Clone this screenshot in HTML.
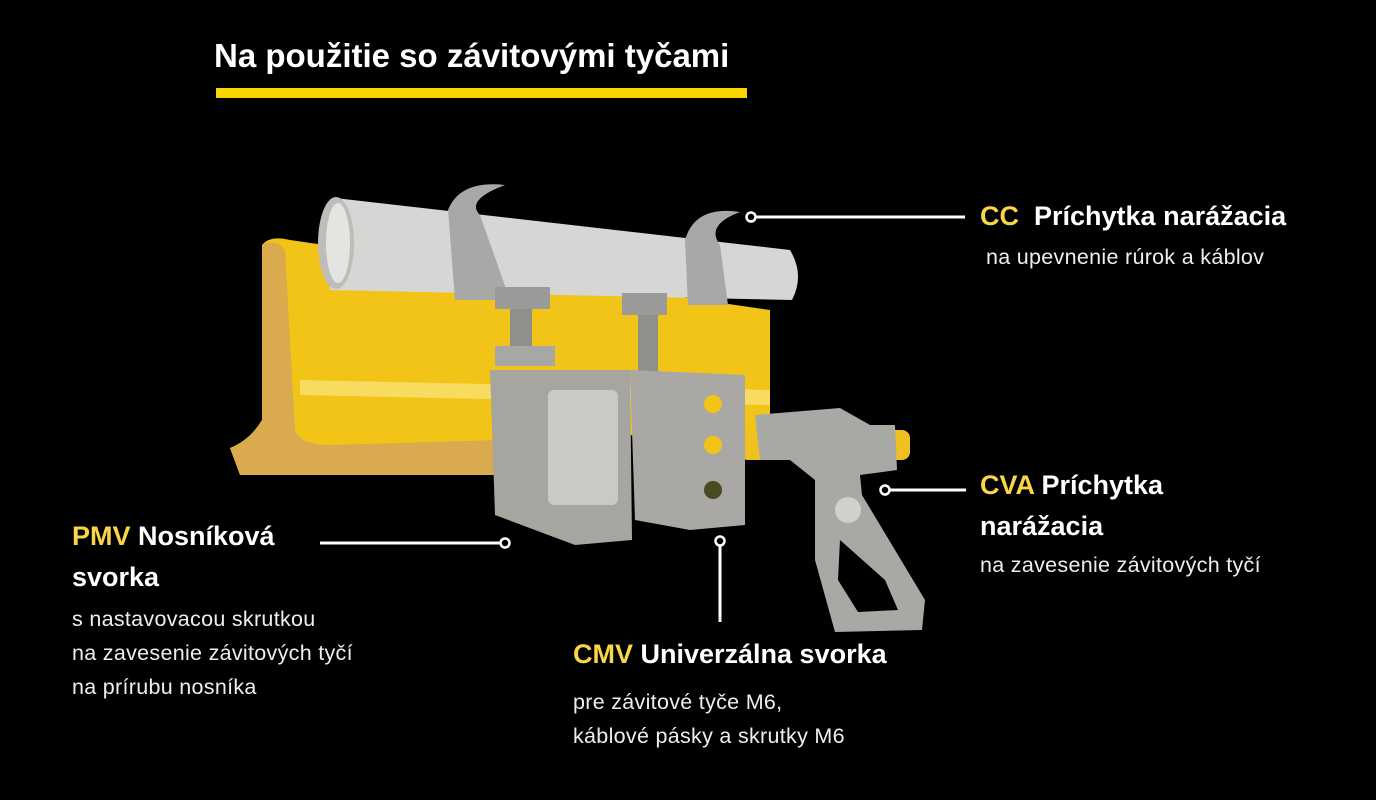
<!DOCTYPE html>
<html><head><meta charset="utf-8"><style>
body{margin:0;background:#000;width:1376px;height:800px;overflow:hidden;position:relative;font-family:"Liberation Sans",sans-serif;color:#fff}
.t{position:absolute;white-space:nowrap}
.h{font-weight:bold;font-size:27px}
.y{color:#f9d548}
.s{font-size:21.5px;color:#eee;letter-spacing:0.3px}
</style></head><body>
<svg width="1376" height="800" style="position:absolute;left:0;top:0">
<path d="M230 448 Q250 440 262 420 L262 245 Q270 235 290 240 L770 310 L770 430 L500 440 L500 475 L240 475 Z" fill="#f2c418"/>
<path d="M230 448 Q250 440 262 420 L262 245 Q275 238 285 250 L295 430 Q300 445 330 445 L500 440 L500 475 L240 475 Z" fill="#d9aa4e"/>
<path d="M300 380 L770 390 L770 405 L300 395Z" fill="#f8dc60"/>
<rect x="740" y="430" width="170" height="30" rx="8" fill="#f0c020"/>
<path d="M335 198 L790 250 Q805 275 792 300 L330 290 Z" fill="#d6d6d4"/>
<ellipse cx="336" cy="243" rx="18" ry="46" fill="#bdbdba"/>
<ellipse cx="338" cy="243" rx="12" ry="40" fill="#e4e4e2"/>
<path d="M448 210 Q460 180 505 185 Q465 200 480 215 L510 300 L455 300 Z" fill="#a8a8a6"/>
<path d="M685 240 Q695 205 740 212 Q705 225 720 245 L728 305 L688 305Z" fill="#a8a8a6"/>
<rect x="495" y="287" width="55" height="22" fill="#9a9a98"/>
<rect x="510" y="309" width="22" height="45" fill="#8f8f8c"/>
<rect x="495" y="346" width="60" height="20" fill="#a7a7a5"/>
<rect x="622" y="293" width="45" height="22" fill="#9a9a98"/>
<rect x="638" y="315" width="20" height="60" fill="#8f8f8c"/>
<path d="M490 370 L630 370 L632 540 L575 545 L495 515 Z" fill="#a6a5a0"/>
<rect x="548" y="390" width="70" height="115" rx="6" fill="#c9c9c5"/>
<path d="M630 370 L745 375 L745 525 L690 530 L635 520 Z" fill="#a9a8a4"/>
<circle cx="713" cy="404" r="9" fill="#f2c418"/><circle cx="713" cy="445" r="9" fill="#f2c418"/><circle cx="713" cy="490" r="9" fill="#4a4a20"/>
<path d="M755 415 L840 408 L870 425 L895 425 L897 470 L860 475 L862 495 L925 600 L922 630 L835 632 L815 560 L815 480 L790 460 L760 460 Z" fill="#a8a8a5"/>
<path d="M840 540 L885 580 L898 610 L858 612 L838 580 Z" fill="#000"/>
<circle cx="848" cy="510" r="13" fill="#d0d0cc"/>
<g stroke="#fff" stroke-width="3" fill="none">
<line x1="755" y1="217" x2="965" y2="217"/>
<line x1="890" y1="490" x2="966" y2="490"/>
<line x1="320" y1="543" x2="500" y2="543"/>
<line x1="720" y1="546" x2="720" y2="622"/>
</g>
<g stroke="#fff" stroke-width="2.5" fill="#000">
<circle cx="751" cy="217" r="4.5"/><circle cx="885" cy="490" r="4.5"/><circle cx="505" cy="543" r="4.5"/><circle cx="720" cy="541" r="4.5"/>
</g>
<rect x="216" y="88" width="531" height="10" fill="#f9d500"/>
</svg>
<div class="t" style="left:214px;top:37px;font-size:33px;font-weight:bold">Na použitie so závitovými tyčami</div>
<div class="t h" style="left:980px;top:201px"><span class="y">CC</span>&nbsp; Príchytka narážacia</div>
<div class="t s" style="left:986px;top:245px">na upevnenie rúrok a káblov</div>
<div class="t h" style="left:980px;top:470px"><span class="y">CVA</span> Príchytka</div>
<div class="t h" style="left:980px;top:511px">narážacia</div>
<div class="t s" style="left:980px;top:553px">na zavesenie závitových tyčí</div>
<div class="t h" style="left:72px;top:521px"><span class="y">PMV</span> Nosníková</div>
<div class="t h" style="left:72px;top:562px">svorka</div>
<div class="t s" style="left:72px;top:602px;line-height:34px">s nastavovacou skrutkou<br>na zavesenie závitových tyčí<br>na prírubu nosníka</div>
<div class="t h" style="left:573px;top:639px"><span class="y">CMV</span> Univerzálna svorka</div>
<div class="t s" style="left:573px;top:685px;line-height:34px">pre závitové tyče M6,<br>káblové pásky a skrutky M6</div>
</body></html>
